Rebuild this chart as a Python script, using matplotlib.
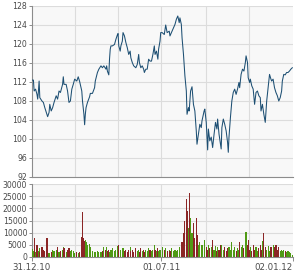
import numpy as np
import matplotlib
matplotlib.use("Agg")
import matplotlib.pyplot as plt

# day offsets from 31.12.2010
days = [0, 2, 3, 5, 7, 8, 9, 10, 11, 14, 16, 18, 21, 22, 24, 25, 27, 29, 31, 34,
        36, 38, 40, 43, 44, 45, 48, 50, 52, 54, 56, 58, 60, 63, 65, 67, 70, 71, 73, 74,
        75, 76, 78, 81, 82, 85, 88, 89, 92, 94, 97, 99, 101, 104, 105, 106, 108, 109, 110, 111,
        113, 116, 118, 120, 121, 122, 124, 125, 127, 128, 130, 132, 134, 136, 138, 139, 141, 143, 146, 148,
        150, 151, 153, 155, 157, 158, 160, 162, 164, 166, 168, 170, 172, 173, 175, 177, 178, 180, 181, 183,
        186,
        188, 190, 193, 194, 196, 199, 201, 203, 205, 207, 208, 210, 211, 213, 215, 217, 218, 220, 221, 223,
        225, 227, 229, 231, 232, 234, 236, 238, 239, 242, 243, 245, 247, 248, 250, 252, 254, 256, 258, 260,
        261, 263, 265, 266, 267, 269, 271, 273, 275, 276, 277, 279, 281, 283, 285, 287, 289, 291, 292, 294,
        296, 298, 300, 301, 303, 304, 306, 307, 309, 311, 313, 315, 317, 319, 321, 322, 324, 326, 328, 330,
        332, 334, 336, 337, 339, 341, 343, 345, 347, 349, 351, 352, 354, 356, 358, 360, 362, 364, 366]

price = [112.4, 112.4, 110.1, 110.5, 109.4, 108.4, 110.0, 112.2, 108.7, 108.0,
         107.7, 106.6, 105.2, 104.7, 105.6, 107.3, 105.9, 106.6, 107.7, 109.1,
         108.4, 110.1, 109.8, 111.5, 113.1, 111.5, 111.5, 110.1, 107.7, 108.0,
         110.5, 111.5, 112.6, 112.2, 113.1, 112.1, 110.1, 108.0, 105.2, 103.0,
         105.2, 106.6, 107.7, 108.9, 109.6, 109.6, 110.8, 112.2, 114.0, 114.7,
         115.4, 115.0, 115.4, 114.7, 115.4, 114.3, 113.5, 116.8, 118.9, 119.6,
         119.6, 119.9, 121.0, 121.9, 122.2, 119.6, 118.5, 119.6, 120.6, 122.4,
         121.7, 120.3, 119.2, 117.8, 118.5, 117.1, 116.1, 115.4, 115.0, 115.7,
         117.8, 116.1, 115.0, 115.4, 114.7, 114.0, 114.7, 114.7, 116.8, 116.4,
         116.4, 117.8, 119.6, 117.8, 118.5, 116.8, 118.9, 120.6, 122.4, 122.4,
         122.0,
         124.0, 122.4, 122.7, 121.7, 122.4, 123.4, 124.1, 125.2, 125.9, 124.5,
         125.5, 124.1, 121.3, 117.8, 113.3, 110.1, 105.2, 106.6, 105.9, 110.1,
         111.0, 107.3, 105.9, 101.7, 98.9, 101.0, 103.1, 102.4, 103.8, 105.9,
         106.3, 103.5, 97.7, 102.1, 99.6, 100.4, 98.2, 101.0, 103.5, 102.1,
         104.2, 101.0, 98.9, 97.9, 102.4, 104.2, 103.1, 101.7, 99.3, 97.2,
         100.4, 104.5, 108.0, 109.8, 110.5, 109.4, 110.5, 111.9, 110.8, 113.6,
         114.7, 114.3, 116.1, 117.5, 116.1, 112.9, 111.9, 112.6, 111.2, 110.5,
         107.3, 109.8, 110.1, 109.1, 108.7, 105.9, 107.3, 105.2, 103.5, 108.0,
         110.8, 113.6, 112.6, 112.2, 112.6, 110.8, 109.8, 109.1, 108.0, 108.7,
         110.1, 112.2, 113.6, 113.5, 114.0, 114.0, 114.3, 114.7, 115.0]

volume = [3300, 2500, 8000, 2000, 5000, 3000, 2500, 3500, 2000, 4000,
          3000, 2500, 8000, 6000, 1500, 1500, 2000, 3000, 2500, 3000,
          4000, 2000, 2500, 3000, 4000, 3500, 2000, 3000, 3500, 2500,
          3000, 2500, 1500, 2000, 1500, 2000, 8300, 18500, 8000, 6500,
          7000, 6000, 5000, 5500, 4000, 2500, 2000, 2000, 2500, 2000,
          2000, 2500, 4000, 3000, 4000, 2500, 3000, 2000, 2500, 3000,
          3500, 2500, 3000, 4500, 2000, 4800, 2500, 3000, 2000, 3500,
          2500, 3000, 2000, 3000, 4000, 2500, 3000, 2000, 3500, 2500,
          3000, 2000, 3500, 2500, 3000, 2000, 3000, 2500, 3500, 3000,
          2500, 3000, 5000, 3000, 2500, 3500, 2500, 3000, 2500, 4000,
          3000,
          3500, 2500, 3000, 2500, 3500, 2500, 3000, 2500, 3000, 2500,
          4000, 5000, 6000, 10000, 15000, 24000, 19000, 12000, 26400, 16000,
          10000, 14000, 8000, 16000, 9000, 5000, 6000, 4000, 5000, 3500,
          7000, 4000, 3000, 5000, 3500, 4000, 7000, 3000, 4500, 2500,
          4000, 3000, 5000, 2500, 5000, 3000, 4000, 2500, 3500, 2500,
          4000, 3000, 6000, 3000, 4000, 2500, 3500, 3000, 6000, 4000,
          5000, 3500, 6000, 10300, 5000, 7000, 3000, 4000, 2500, 5000,
          3000, 4000, 2500, 3500, 5000, 3000, 6500, 9800, 4000, 3000,
          4500, 2500, 4000, 3000, 5000, 4000, 5000, 3000, 4000, 2500,
          3000, 2500, 3000, 2500, 2000, 2500, 2000, 1500, 800]

price_ticks = [92, 96, 100, 104, 108, 112, 116, 120, 124, 128]
volume_ticks = [0, 5000, 10000, 15000, 20000, 25000, 30000]
date_ticks = [0, 182, 367]
date_labels = ["31.12.10", "01.07.11", "02.01.12"]
grid_days = [60, 121, 182, 244, 305]

W, H = 299, 280
fig = plt.figure(figsize=(W / 100, H / 100), dpi=100)
fig.patch.set_facecolor("white")

left = 32 / W
width = 261 / W
ax1 = fig.add_axes([left, (H - 177) / H, width, 171 / H])
ax2 = fig.add_axes([left, (H - 257) / H, width, 73 / H])

face = "#f8f8f8"
gridc = "#dcdcdc"
spinec = "#8c8c8c"
textc = "#4a4a4a"
fs = 5.6

for ax in (ax1, ax2):
    ax.set_facecolor(face)
    for s in ("top", "right"):
        ax.spines[s].set_visible(False)
    for s in ("left", "bottom"):
        ax.spines[s].set_color(spinec)
        ax.spines[s].set_linewidth(0.8)
    ax.set_xlim(0, 367)
    for d in grid_days:
        ax.axvline(d, color=gridc, lw=0.8, zorder=0)
    ax.tick_params(axis="y", length=2.5, width=0.7, color=spinec,
                   labelsize=fs, labelcolor=textc, pad=1)

# price
days_a = np.array(days)
price_a = np.array(price)
ax1.plot(days_a, price_a, color="#1d4f73", lw=0.75, zorder=3)
ax1.set_ylim(92, 128)
ax1.set_yticks(price_ticks)
ax1.yaxis.grid(True, color=gridc, lw=0.8, zorder=0)
ax1.set_axisbelow(True)
ax1.set_xticks([])

# volume
vol_a = np.array(volume)
up = np.r_[True, np.diff(price_a) >= 0]
colors = np.where(up, "#4f9a14", "#8b2626")
ax2.bar(days_a, vol_a, width=1.6, color=colors, linewidth=0, zorder=3)
ax2.set_ylim(0, 30000)
ax2.set_yticks(volume_ticks)
ax2.yaxis.grid(True, color=gridc, lw=0.8, zorder=0)
ax2.set_axisbelow(True)
ax2.set_xticks(date_ticks)
ax2.set_xticklabels(date_labels)
ax2.tick_params(axis="x", length=3, width=0.7, color=spinec,
                labelsize=fs + 0.6, labelcolor=textc, pad=1.5)
lbls = ax2.get_xticklabels()
lbls[-1].set_horizontalalignment("right")

fig.savefig("out.png", dpi=100, facecolor="white")
